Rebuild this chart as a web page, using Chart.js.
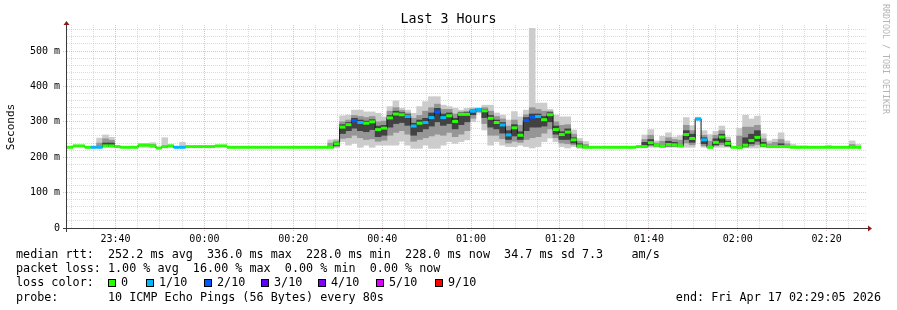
<!DOCTYPE html>
<html>
<head>
<meta charset="utf-8">
<title>Last 3 Hours</title>
<script src="https://cdn.jsdelivr.net/npm/chart.js@4.4.1/dist/chart.umd.min.js"></script>
<style>
  body { margin: 0; background: #fff; }
  #wrap { position: relative; width: 897px; height: 310px; background: #fff;
          font-family: 'DejaVu Sans Mono', monospace; color: #000; overflow: hidden; }
  #wrap canvas { position: absolute; left: 0; top: 0; }
  .txt { position: absolute; white-space: pre; }
  #title { left: 0; width: 897px; top: 11px; text-align: center; font-size: 13.3px; line-height: 16px; }
  #ylabel { left: -29px; top: 119px; width: 80px; text-align: center; font-size: 11px; line-height: 16px;
            transform: rotate(-90deg); }
  #watermark { left: 881px; top: 4px; writing-mode: vertical-rl; font-size: 8.3px; color: #b4b4b4; }
  #legend { left: 16px; top: 247px; font-size: 11.75px; line-height: 14.2px; }
  #end { right: 16px; top: 289.6px; font-size: 11.75px; line-height: 14.2px; }
  .sw { position: absolute; top: 279px; width: 6px; height: 6px; border: 1px solid #000; }
  .swl { position: absolute; top: 275.4px; font-size: 11.75px; line-height: 14.2px; white-space: pre; }
</style>
</head>
<body>
<div id="wrap">
  <canvas id="smoke" width="897" height="310"></canvas>
  <div class="txt" id="title">Last 3 Hours</div>
  <div class="txt" id="ylabel">Seconds</div>
  <div class="txt" id="watermark">RRDTOOL / TOBI OETIKER</div>
  <div class="txt" id="legend">median rtt:  252.2 ms avg  336.0 ms max  228.0 ms min  228.0 ms now  34.7 ms sd 7.3    am/s
packet loss: 1.00 % avg  16.00 % max  0.00 % min  0.00 % now
loss color:
probe:       10 ICMP Echo Pings (56 Bytes) every 80s</div>
  <div class="txt" id="end">end: Fri Apr 17 02:29:05 2026</div>
</div>
<script>
const _ = null;

// time axis, minutes relative to 00:00
const START_MIN = -(30 + 55 / 60);   // 23:29:05
const END_MIN = 149 + 5 / 60;        // 02:29:05
const STEP_MIN = 80 / 60;            // one step = 80 s

const xTickMinutes = [-20, 0, 20, 40, 60, 80, 100, 120, 140];
const xTickLabels = ['23:40', '00:00', '00:20', '00:40', '01:00', '01:20', '01:40', '02:00', '02:20'];
const yTickValues = [0, 100, 200, 300, 400, 500];
const yTickLabels = ['0', '100 m', '200 m', '300 m', '400 m', '500 m'];

// median rtt per step (ms)
const medianRtt = [
  228,232,232,228,228,228,232,232,230,228,228,228,234,234,232,
  226,230,232,228,228,230,230,230,230,230,232,232,228,228,228,
  228,228,228,228,228,228,228,228,228,228,228,228,228,228,228,
  238,285,292,303,298,296,300,278,282,311,322,320,315,288,296,
  298,312,328,312,317,301,321,321,330,335,331,310,298,291,263,
  283,262,304,313,315,306,320,278,264,271,249,232,228,228,228,
  228,228,228,228,228,228,230,230,241,234,231,236,235,232,264,
  253,308,249,228,242,257,239,228,227,234,247,256,234,230,230,
  230,230,228,228,228,228,228,228,228,228,228,228,228,228,_
];

// lost pings out of 10 per step
const lossLevel = [
  0,0,0,0,1,1,0,0,0,0,0,0,0,0,0,
  0,0,0,1,1,0,0,0,0,0,0,0,0,0,0,
  0,0,0,0,0,0,0,0,0,0,0,0,0,0,0,
  0,0,0,2,1,0,0,0,0,0,0,0,1,1,0,
  1,1,2,1,0,0,0,0,1,1,0,0,0,1,1,
  0,0,2,2,1,0,0,0,0,0,0,0,0,0,0,
  0,0,0,0,0,0,0,0,0,0,0,0,0,0,0,
  0,1,1,0,0,0,0,0,0,0,0,0,0,0,0,
  0,0,0,0,0,0,0,0,0,0,0,0,0,0,_
];

// smoke: outer (min..max), middle and inner ping bands (ms)
const smokeMax = [
  _,_,_,_,_,254,263,256,_,_,_,_,239,239,241,
  _,255,235,_,242,_,_,_,_,_,_,_,_,_,_,
  _,_,_,_,_,_,_,_,_,_,_,_,_,_,249,
  251,317,319,333,333,328,328,324,314,343,359,338,333,324,343,
  357,371,371,347,343,338,333,338,340,339,347,347,325,319,305,
  329,314,333,564,353,353,335,319,314,314,277,253,244,_,_,
  _,_,_,_,_,_,_,263,278,246,259,269,257,261,312,
  289,313,275,264,273,288,257,_,282,319,308,316,266,246,251,
  269,246,236,232,232,_,_,_,234,_,_,_,246,236,_
];
const smokeMin = [
  _,_,_,_,_,228,228,228,_,_,_,_,228,228,228,
  _,226,228,_,228,_,_,_,_,_,_,_,_,_,_,
  _,_,_,_,_,_,_,_,_,_,_,_,_,_,228,
  226,244,234,239,228,234,228,234,234,234,234,245,234,225,225,
  234,225,225,234,244,239,244,249,300,325,277,234,244,234,230,
  230,234,230,226,230,244,254,244,230,226,230,225,226,_,_,
  _,_,_,_,_,_,_,228,228,228,228,228,228,228,228,
  228,303,228,226,228,228,228,_,226,226,226,226,228,228,228,
  228,228,228,228,228,_,_,_,228,_,_,_,228,228,_
];
const midHi = [
  _,_,_,_,_,240,252,248,_,_,_,_,_,_,236,
  _,_,_,_,_,_,_,_,_,_,_,_,_,_,_,
  _,_,_,_,_,_,_,_,_,_,_,_,_,_,240,
  246,300,305,318,315,312,315,300,302,330,340,332,325,310,318,
  330,340,350,335,335,322,328,330,336,338,340,330,315,308,288,
  305,290,320,340,335,330,330,300,290,292,265,245,236,_,_,
  _,_,_,_,_,_,_,250,262,240,245,255,250,248,290,
  275,_,262,245,262,275,250,_,260,285,285,290,252,238,242,
  250,238,_,_,_,_,_,_,_,_,_,_,236,_,_
];
const midLo = [
  _,_,_,_,_,228,230,230,_,_,_,_,_,_,229,
  _,_,_,_,_,_,_,_,_,_,_,_,_,_,_,
  _,_,_,_,_,_,_,_,_,_,_,_,_,_,230,
  230,253,255,262,255,250,252,245,248,262,270,275,265,245,250,
  255,260,265,262,270,258,265,275,310,328,295,262,262,252,240,
  245,242,250,255,258,268,280,255,240,238,235,228,227,_,_,
  _,_,_,_,_,_,_,230,232,230,229,230,230,230,240,
  235,_,232,228,232,235,230,_,228,228,232,236,230,229,229,
  229,229,_,_,_,_,_,_,_,_,_,_,228,_,_
];
const innerHi = [
  _,_,_,_,_,_,240,240,_,_,_,_,_,_,_,
  _,_,_,_,_,_,_,_,_,_,_,_,_,_,_,
  _,_,_,_,_,_,_,_,_,_,_,_,_,_,_,
  242,292,298,310,305,302,306,288,290,318,330,326,320,296,305,
  310,325,338,322,325,310,325,326,333,337,335,318,305,298,275,
  292,272,312,322,322,315,326,288,272,280,255,238,_,_,_,
  _,_,_,_,_,_,_,242,250,_,_,245,242,_,275,
  265,_,255,_,252,265,245,_,_,255,265,275,242,_,_,
  238,_,_,_,_,_,_,_,_,_,_,_,_,_,_
];
const innerLo = [
  _,_,_,_,_,_,231,231,_,_,_,_,_,_,_,
  _,_,_,_,_,_,_,_,_,_,_,_,_,_,_,
  _,_,_,_,_,_,_,_,_,_,_,_,_,_,_,
  233,267,275,282,275,272,278,258,262,285,295,298,290,262,272,
  280,288,300,290,295,280,292,300,320,331,312,285,280,268,250,
  260,250,275,285,285,288,300,265,250,250,240,230,_,_,_,
  _,_,_,_,_,_,_,232,235,_,_,232,232,_,250,
  242,_,238,_,235,242,233,_,_,230,238,245,231,_,_,
  229,_,_,_,_,_,_,_,_,_,_,_,_,_,_
];

const lossSteps = ['0', '1/10', '2/10', '3/10', '4/10', '5/10', '9/10'];
const lossSwatch = ['#26ff00', '#00b8ff', '#0059ff', '#5e00ff', '#7e00ff', '#dd00ff', '#ff0000'];

const MAJOR = 'rgba(255,110,110,0.5)';
const MINOR = 'rgba(175,175,175,0.45)';
const FONT = "'DejaVu Sans Mono', monospace";

// centre of each step on the time axis
const colMinutes = medianRtt.map((m, i) => START_MIN + (i + 0.5) * STEP_MIN);

function band(lo, hi) {
  const pts = [];
  hi.forEach((h, i) => {
    if (h !== null && lo[i] !== null) pts.push({ x: colMinutes[i], y: [lo[i], h] });
  });
  return pts;
}

const smokeBar = { type: 'bar', grouped: false, barPercentage: 1, categoryPercentage: 1, borderWidth: 0 };

// axis lines with the little arrow heads
const rrdAxes = {
  id: 'rrdAxes',
  afterDraw(chart) {
    const { ctx, chartArea: a } = chart;
    ctx.save();
    ctx.strokeStyle = '#3a3a3a';
    ctx.lineWidth = 1;
    ctx.beginPath();
    ctx.moveTo(a.left - 4, a.bottom + 0.5);
    ctx.lineTo(a.right + 1, a.bottom + 0.5);
    ctx.moveTo(a.left - 0.5, a.bottom + 4);
    ctx.lineTo(a.left - 0.5, a.top);
    ctx.stroke();
    ctx.fillStyle = '#8b1a1a';
    ctx.beginPath();
    ctx.moveTo(a.right + 1, a.bottom - 2.5);
    ctx.lineTo(a.right + 5, a.bottom + 0.5);
    ctx.lineTo(a.right + 1, a.bottom + 3.5);
    ctx.fill();
    ctx.beginPath();
    ctx.moveTo(a.left - 3.5, a.top);
    ctx.lineTo(a.left - 0.5, a.top - 4);
    ctx.lineTo(a.left + 2.5, a.top);
    ctx.fill();
    ctx.restore();
  }
};

const xGrid = [];
for (let v = -30; v <= 145; v += 5) xGrid.push(v);
const yGrid = [];
for (let v = 0; v <= 560; v += 20) yGrid.push(v);

new Chart(document.getElementById('smoke'), {
  type: 'line',
  data: {
    datasets: [
      {
        label: 'median',
        data: medianRtt.map((m, i) => ({ x: colMinutes[i], y: m })),
        showLine: false,
        pointStyle: 'line',
        pointRadius: 3,
        pointBorderWidth: 3,
        pointBorderColor: lossLevel.map(l => lossSwatch[l || 0]),
        order: 0
      },
      {
        label: 'median step',
        data: medianRtt.map((m, i) => ({ x: colMinutes[i], y: m })),
        stepped: 'middle',
        borderColor: '#1a1a1a',
        borderWidth: 1,
        pointRadius: 0,
        spanGaps: false,
        order: 1
      },
      { ...smokeBar, label: 'inner', data: band(innerLo, innerHi), backgroundColor: 'rgb(66,66,66)', order: 2 },
      { ...smokeBar, label: 'middle', data: band(midLo, midHi), backgroundColor: 'rgb(150,150,150)', order: 3 },
      { ...smokeBar, label: 'outer', data: band(smokeMin, smokeMax), backgroundColor: 'rgb(204,204,204)', order: 4 }
    ]
  },
  options: {
    responsive: false,
    animation: false,
    events: [],
    devicePixelRatio: 1,
    layout: { padding: { left: 0, right: 30, top: 25, bottom: 0 } },
    plugins: { legend: { display: false }, tooltip: { enabled: false } },
    scales: {
      x: {
        type: 'linear',
        min: START_MIN,
        max: END_MIN,
        offset: false,
        afterFit: s => { s.height = 82; },
        afterBuildTicks: s => { s.ticks = xGrid.map(v => ({ value: v })); },
        ticks: {
          autoSkip: false,
          maxRotation: 0,
          padding: 1,
          color: '#000',
          font: { family: FONT, size: 10 },
          callback: v => { const k = xTickMinutes.indexOf(v); return k >= 0 ? xTickLabels[k] : ''; }
        },
        grid: {
          offset: false,
          color: c => (c.tick && xTickMinutes.includes(c.tick.value)) ? MAJOR : MINOR,
          tickColor: c => (c.tick && xTickMinutes.includes(c.tick.value)) ? MAJOR : 'rgba(0,0,0,0)',
          tickLength: 4,
          tickBorderDash: [1, 1]
        },
        border: { display: false, dash: [1, 1] }
      },
      y: {
        min: 0,
        max: 573.5,
        afterFit: s => { s.width = 67; },
        afterBuildTicks: s => { s.ticks = yGrid.map(v => ({ value: v })); },
        ticks: {
          autoSkip: false,
          padding: 3,
          color: '#000',
          font: { family: FONT, size: 10 },
          callback: v => { const k = yTickValues.indexOf(v); return k >= 0 ? yTickLabels[k] : ''; }
        },
        grid: {
          color: c => (c.tick && yTickValues.includes(c.tick.value)) ? MAJOR : MINOR,
          tickColor: c => (c.tick && yTickValues.includes(c.tick.value)) ? MAJOR : 'rgba(0,0,0,0)',
          tickLength: 4,
          tickBorderDash: [1, 1]
        },
        border: { display: false, dash: [1, 1] }
      }
    }
  },
  plugins: [rrdAxes]
});

// loss colour legend
const swatchX = [108, 146, 204, 261, 318, 376, 435];
const wrap = document.getElementById('wrap');
lossSteps.forEach((label, i) => {
  const box = document.createElement('div');
  box.className = 'sw';
  box.style.left = swatchX[i] + 'px';
  box.style.background = lossSwatch[i];
  wrap.appendChild(box);
  const txt = document.createElement('div');
  txt.className = 'swl';
  txt.style.left = (swatchX[i] + 13) + 'px';
  txt.textContent = label;
  wrap.appendChild(txt);
});
</script>
</body>
</html>
